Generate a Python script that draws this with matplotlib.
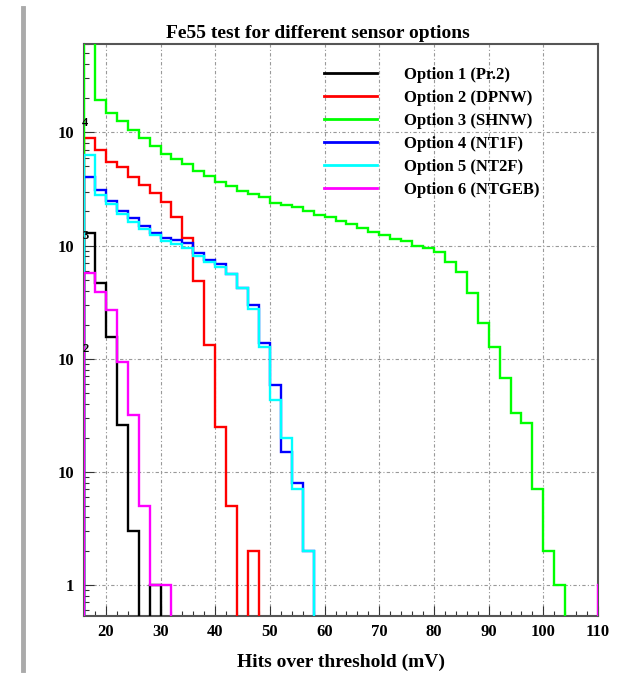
import numpy as np
import matplotlib
matplotlib.use("Agg")
import matplotlib.pyplot as plt
from matplotlib.lines import Line2D
from matplotlib.ticker import FixedLocator, LogLocator, NullFormatter, FixedFormatter, MultipleLocator

# ---------------- data ----------------
bin_start = 16
bin_width = 2
n_bins = 48  # 16 .. 112 mV

labels = ["Option 1 (Pr.2)", "Option 2 (DPNW)", "Option 3 (SHNW)",
          "Option 4 (NT1F)", "Option 5 (NT2F)", "Option 6 (NTGEB)"]
colors = ["#000000", "#ff0000", "#00ff00", "#0000ff", "#00ffff", "#ff00ff"]

opt1 = [1300, 470, 155, 26, 3, 0, 1]
opt2 = [8850, 6930, 5430, 4910, 4010, 3400, 2890, 2410, 1775, 1160, 490, 131, 25, 5, 0, 2]
opt3 = [65000, 19500, 15000, 12700, 10600, 9000, 7650, 6500, 5870, 5300, 4600, 4150,
        3610, 3390, 3065, 2880, 2700, 2400, 2300, 2170, 2000, 1880, 1770, 1640, 1540,
        1440, 1330, 1250, 1150, 1090, 1000, 960, 870, 710, 580, 380, 206, 126, 67, 33,
        27, 7, 2, 1]
opt4 = [4000, 3100, 2500, 2000, 1740, 1500, 1280, 1170, 1110, 1050, 850, 750, 680, 565,
        420, 300, 137, 58, 15, 8, 2]
opt5 = [6300, 2800, 2350, 1900, 1600, 1400, 1230, 1090, 1040, 960, 810, 710, 650, 565,
        420, 274, 126, 43, 20, 7, 2]
opt6 = [570, 385, 270, 93, 32, 5, 1, 1, 0, 0, 0, 0, 0, 0, 0, 0, 0, 0, 0, 0, 0, 0, 0, 0,
        0, 0, 0, 0, 0, 0, 0, 0, 0, 0, 0, 0, 0, 0, 0, 0, 0, 0, 0, 0, 0, 0, 0, 1]
series = [opt1, opt2, opt3, opt4, opt5, opt6]

x_ticks = [20, 30, 40, 50, 60, 70, 80, 90, 100, 110]
y_ticks = [1, 10, 100, 1000, 10000]
y_tick_labels = ["1", "10", "10", "10", "10"]
y_exponents = ["", "", "2", "3", "4"]

title = "Fe55 test for different sensor options"
xlabel = "Hits over threshold (mV)"

# ---------------- figure ----------------
W, H = 642, 677
fig = plt.figure(figsize=(W / 100, H / 100), dpi=100)
fig.patch.set_facecolor("white")
serif = ["Liberation Serif", "DejaVu Serif"]

ax_l, ax_r, ax_t, ax_b = 84, 598, 44, 616
ax = fig.add_axes([ax_l / W, 1 - ax_b / H, (ax_r - ax_l) / W, (ax_b - ax_t) / H])

edges = bin_start + bin_width * np.arange(n_bins + 1)
floor = 1e-3
for vals, col in zip(series, colors):
    v = np.zeros(n_bins)
    v[:len(vals)] = vals
    v = np.where(v > 0, v, floor)
    ax.stairs(v, edges, baseline=floor, color=col, lw=1.7, zorder=3)

ax.set_yscale("log")
ax.set_xlim(16, 110)
ax.set_ylim(0.53, 6.05e4)

ax.xaxis.set_major_locator(FixedLocator(x_ticks))
ax.xaxis.set_minor_locator(MultipleLocator(2))
ax.set_xticklabels([str(t) for t in x_ticks], fontfamily=serif, fontweight="bold", fontsize=12)

ax.yaxis.set_major_locator(FixedLocator(y_ticks))
ax.yaxis.set_major_formatter(FixedFormatter(y_tick_labels))
ax.yaxis.set_minor_locator(LogLocator(base=10, subs=np.arange(2, 10)))
ax.yaxis.set_minor_formatter(NullFormatter())
for lab in ax.get_yticklabels():
    lab.set_fontfamily(serif)
    lab.set_fontweight("bold")
    lab.set_fontsize(12)

ax.tick_params(axis="both", which="major", direction="in", length=7, width=0.8,
               colors="#333333", labelcolor="black", top=False, right=False)
ax.tick_params(axis="both", which="minor", direction="in", length=3.5, width=0.8,
               colors="#333333", top=False, right=False)
ax.tick_params(axis="x", which="major", pad=6)
ax.tick_params(axis="y", which="major", pad=7)

for tv, ex in zip(y_ticks, y_exponents):
    if ex:
        ax.annotate(ex, xy=(0, tv), xycoords=ax.get_yaxis_transform(),
                    xytext=(1, 7), textcoords="offset points", ha="center", va="center",
                    fontfamily=serif, fontweight="bold", fontsize=9)

ax.grid(True, which="major", color="#999999", lw=0.8, ls=(0, (3, 2, 1, 2)), zorder=1)
for s in ax.spines.values():
    s.set_color("#555555")
    s.set_linewidth(1.5)

fig.text(318 / W, 1 - 33 / H, title, ha="center", va="center",
         fontfamily=serif, fontweight="bold", fontsize=14)
fig.text((ax_l + ax_r) / 2 / W, 1 - 662 / H, xlabel, ha="center", va="center",
         fontfamily=serif, fontweight="bold", fontsize=14)

handles = [Line2D([], [], color=c, lw=2) for c in colors]
leg = ax.legend(handles, labels, loc="upper left", bbox_to_anchor=(324 / W, 1 - 67 / H),
                bbox_transform=fig.transFigure, frameon=False,
                prop={"family": serif, "weight": "bold", "size": 12},
                handlelength=3.2, handletextpad=1.6, labelspacing=0.42,
                borderpad=0, borderaxespad=0)

# left grey bar of the page
fig.add_artist(Line2D([23 / W, 23 / W], [1 - 8 / H, 1 - 670 / H], color="#aaaaaa",
                      lw=3.5, transform=fig.transFigure))

fig.savefig("out.png", dpi=100)
